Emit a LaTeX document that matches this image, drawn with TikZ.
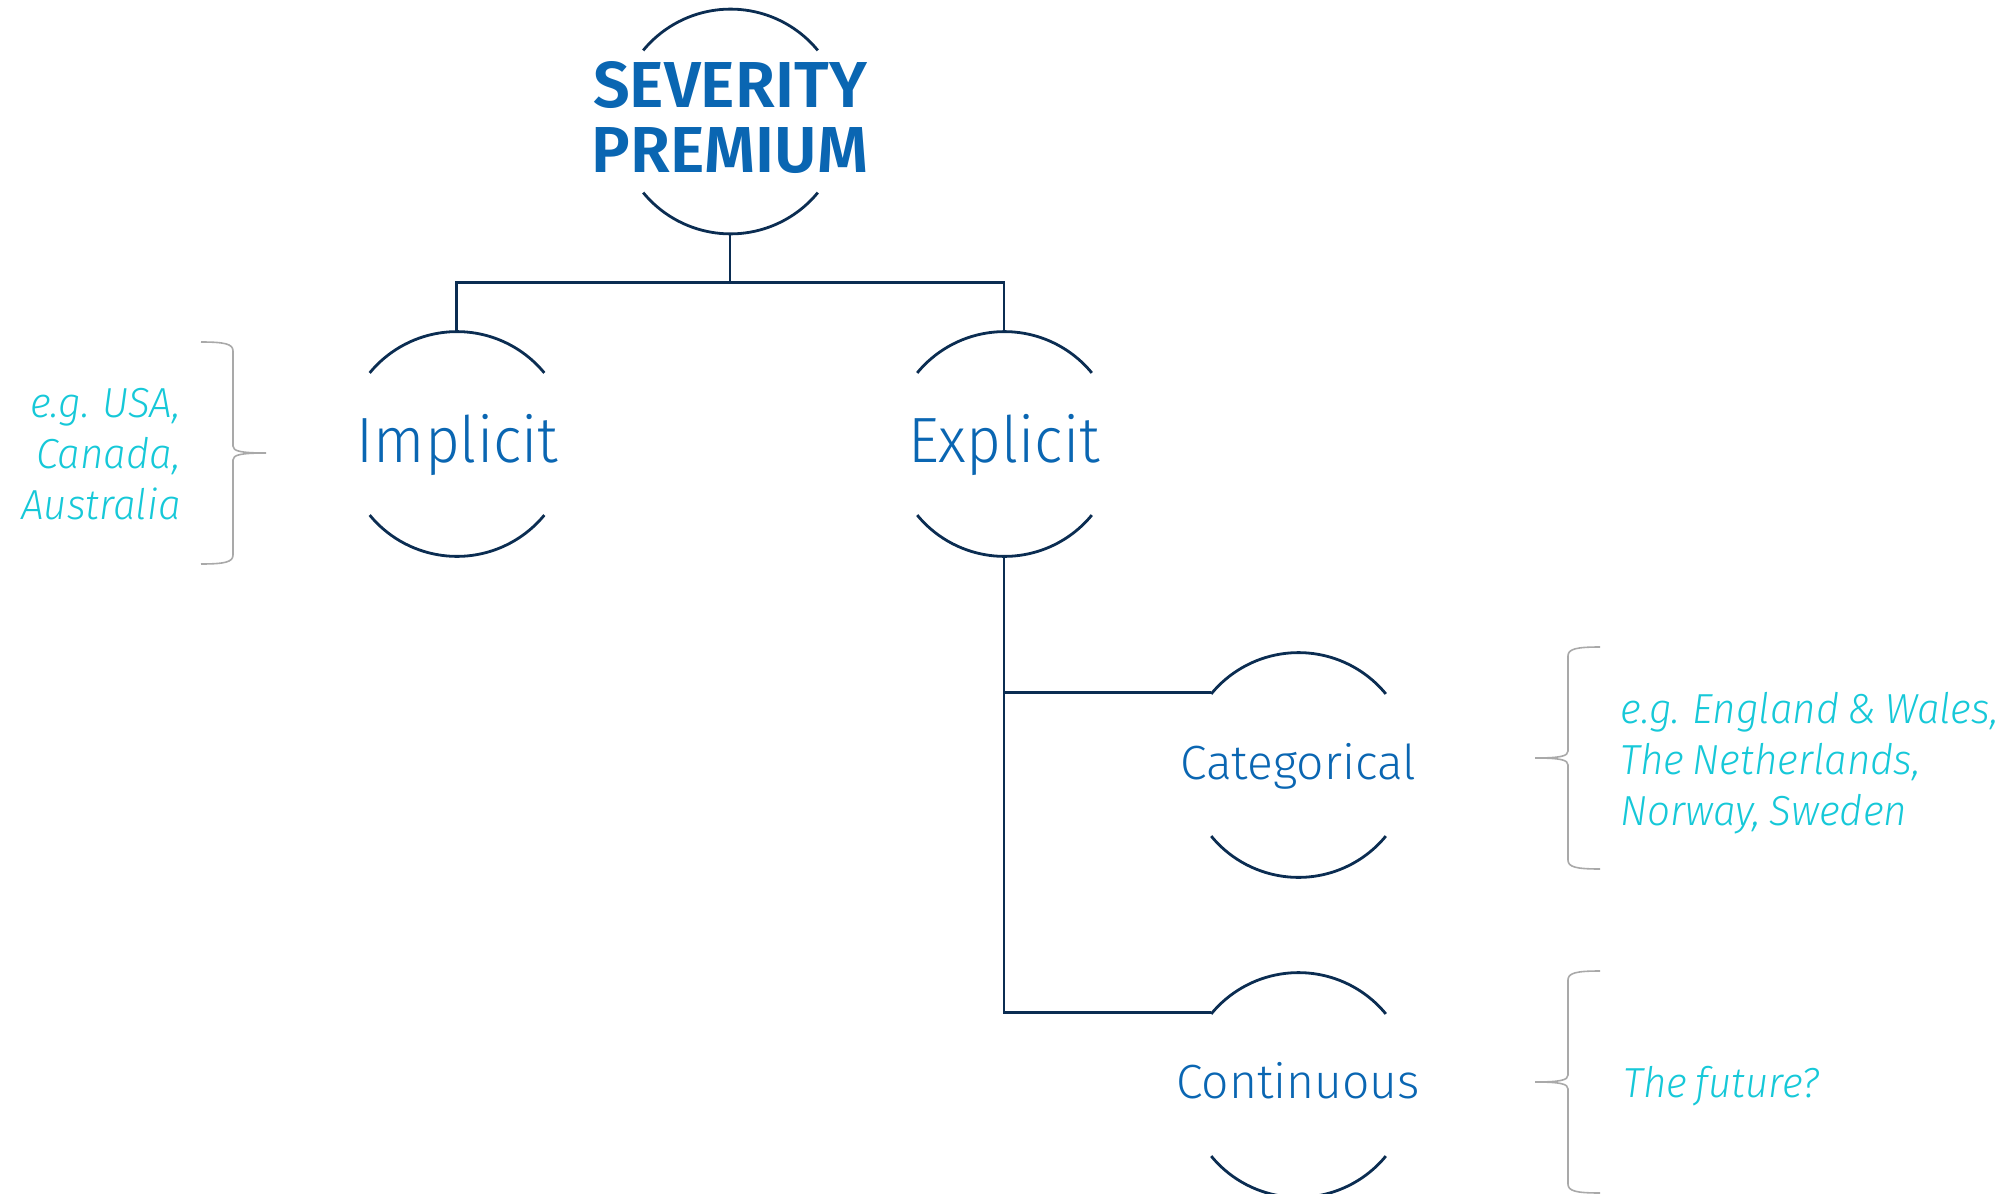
\documentclass[tikz,border=0pt]{standalone}
\usepackage{fontspec}
\setmainfont{Fira Sans Light}[ItalicFont={Fira Sans Light Italic}]
\newfontfamily\titlefont{Fira Sans SemiBold}
\newfontfamily\lblfont{Fira Sans Light}[FakeStretch=0.94]
\newfontfamily\notefont{Fira Sans Light Italic}[FakeStretch=0.96, WordSpace=0.75]
\definecolor{navy}{HTML}{0B2D52}
\definecolor{mainblue}{HTML}{0A66B2}
\definecolor{notecyan}{HTML}{16C8D8}
\definecolor{bracegray}{HTML}{A9A9A9}
\tikzset{
  ring/.style={circle, minimum size=113pt, inner sep=0pt, outer sep=0pt, draw=none},
  ringarc/.style={draw=navy, line width=1.4pt},
  conn/.style={draw=navy, line width=1.4pt},
  lbl/.style={text=mainblue, font=\lblfont\fontsize{32}{38}\selectfont, inner sep=0pt},
  sublbl/.style={text=mainblue, font=\fontsize{24}{29}\selectfont, inner sep=0pt},
  note/.style={text=notecyan, font=\notefont\fontsize{21}{25.5}\selectfont, inner sep=0pt},
  titletext/.style={text=mainblue, font=\titlefont\fontsize{32.5}{32.5}\selectfont, align=center, inner sep=0pt},
  bracestyle/.style={draw=bracegray, line width=0.8pt},
  pics/curly/.style={code={
    \draw[bracestyle] (65,-111) .. controls (41,-111) and (33,-109) .. (33,-102)
      -- (33,-7) .. controls (33,-2) and (26,0) .. (0,0)
      .. controls (26,0) and (33,2) .. (33,7)
      -- (33,102) .. controls (33,109) and (41,111) .. (65,111);
  }}
}
\begin{document}
\begin{tikzpicture}[x=0.5pt,y=-0.5pt]
\useasboundingbox (0,0) rectangle (2015,1194);
% ring nodes
\node[ring] (sev) at (730,121.5) {};
\node[ring] (imp) at (456.5,444) {};
\node[ring] (exp) at (1004,444) {};
\node[ring] (cat) at (1298,765) {};
\node[ring] (con) at (1298,1085) {};
\foreach \n in {sev,imp,exp,cat,con}{
  \draw[ringarc] (\n.39.4) arc[start angle=39.4, end angle=140.6, radius=56.5pt];
  \draw[ringarc] (\n.-39.4) arc[start angle=-39.4, end angle=-140.6, radius=56.5pt];
}
% texts
\node[titletext] (sevt) at (730,118) {SEVERITY\\PREMIUM};
\node[lbl, anchor=base] (impt) at (457.5,462) {Implicit};
\node[lbl, anchor=base] (expt) at (1004,462) {Explicit};
\node[sublbl, anchor=base] (catt) at (1298,779) {Categorical};
\node[sublbl, anchor=base] (cont) at (1298,1098) {Continuous};
% connectors
\draw[conn] (sev.south) -- ++(0,48) coordinate (bus) -| (imp.north);
\draw[conn] (bus) -| (exp.north);
\draw[conn] (exp.south) |- (cat.140.6);
\draw[conn] (exp.south) |- (con.140.6);
% notes
\node[note, align=right, anchor=north east] (usa) at (181,388) {e.g. USA,\\Canada,\\Australia};
\node[note, align=left, anchor=north west] (eng) at (1620,692) {e.g. England \& Wales,\\The Netherlands,\\Norway, Sweden};
\node[note, anchor=base west] (fut) at (1623,1097) {The future?};
% braces
\pic[xscale=-1] at (266,453) {curly};
\pic at (1535,758) {curly};
\pic at (1535,1082) {curly};
\end{tikzpicture}
\end{document}
